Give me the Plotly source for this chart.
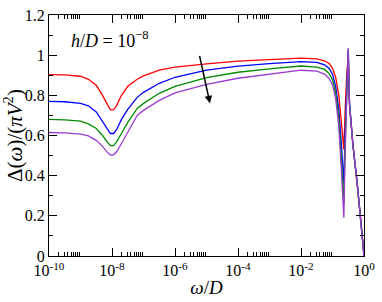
import plotly.graph_objects as go

# log10(omega/D) sample positions
log_omega = [-10, -9.5, -9, -8.75, -8.5, -8.3, -8.15, -8.05, -7.95, -7.85, -7.7, -7.5, -7.2, -7.0,
             -6.5, -6, -5, -4, -3, -2, -1.5, -1.25, -1.1, -1.0, -0.9, -0.8, -0.72, -0.66, -0.64,
             -0.6, -0.55, -0.5, -0.46, -0.35, -0.22, -0.1, 0]

red = [0.903, 0.902, 0.895, 0.88, 0.85, 0.80, 0.755, 0.728, 0.728, 0.75, 0.80, 0.845, 0.88, 0.897,
       0.925, 0.94, 0.957, 0.97, 0.978, 0.985, 0.982, 0.972, 0.957, 0.935, 0.89, 0.80, 0.67, 0.56, 0.53,
       0.72, 0.90, 0.99, 0.75, 0.55, 0.37, 0.18, 0.0]
blue = [0.77, 0.768, 0.76, 0.748, 0.717, 0.672, 0.632, 0.61, 0.61, 0.63, 0.68, 0.73, 0.79, 0.815,
        0.86, 0.89, 0.925, 0.945, 0.958, 0.968, 0.964, 0.952, 0.933, 0.905, 0.845, 0.73, 0.56, 0.39, 0.36,
        0.62, 0.88, 1.02, 0.76, 0.55, 0.37, 0.18, 0.0]
green = [0.68, 0.678, 0.672, 0.658, 0.635, 0.60, 0.567, 0.55, 0.55, 0.57, 0.61, 0.665, 0.735, 0.76,
         0.81, 0.845, 0.888, 0.915, 0.932, 0.946, 0.941, 0.929, 0.907, 0.877, 0.812, 0.685, 0.49, 0.28, 0.26,
         0.55, 0.85, 1.03, 0.76, 0.55, 0.37, 0.18, 0.0]
purple = [0.615, 0.613, 0.607, 0.598, 0.576, 0.546, 0.517, 0.503, 0.504, 0.52, 0.56, 0.615, 0.70, 0.725,
          0.775, 0.812, 0.855, 0.885, 0.905, 0.925, 0.921, 0.906, 0.882, 0.852, 0.785, 0.645, 0.43, 0.20, 0.19,
          0.50, 0.82, 1.035, 0.76, 0.55, 0.37, 0.18, 0.0]

series = [("red", red, "#ff0000"), ("blue", blue, "#0000ff"),
          ("green", green, "#008b00"), ("purple", purple, "#9a3ccf")]

x_tick_exponents = [-10, -8, -6, -4, -2, 0]
y_ticks = [0, 0.2, 0.4, 0.6, 0.8, 1, 1.2]
y_tick_labels = ["0", "0.2", "0.4", "0.6", "0.8", "1", "1.2"]

omega = [10 ** e for e in log_omega]

fig = go.Figure()
for name, vals, col in series:
    fig.add_trace(go.Scatter(x=omega, y=vals, mode="lines", name=name,
                             line=dict(color=col, width=1.3), showlegend=False))

font_family = "Liberation Serif"
x_minor = [k * 10 ** e for e in x_tick_exponents[:-1] for k in range(2, 10)]

fig.update_xaxes(type="log", range=[-10, 0],
                 tickvals=[10 ** e for e in x_tick_exponents],
                 ticktext=[f"10<sup>{e}</sup>" for e in x_tick_exponents],
                 ticks="inside", ticklen=8, tickwidth=1, tickcolor="black",
                 minor=dict(tickvals=x_minor, ticks="inside", ticklen=4, tickcolor="black"),
                 showline=True, linecolor="black", linewidth=1.3, mirror="ticks",
                 showgrid=False, zeroline=False, ticklabeloverflow="allow",
                 tickfont=dict(family=font_family, size=16, color="black"),
                 title=dict(text="<i>ω</i>/<i>D</i>", font=dict(family=font_family, size=19, color="black"),
                            standoff=2))
fig.update_yaxes(range=[0, 1.2], tickvals=y_ticks, ticktext=y_tick_labels,
                 ticks="inside", ticklen=8, tickwidth=1, tickcolor="black",
                 minor=dict(dtick=0.1, tick0=0, ticks="inside", ticklen=4, tickcolor="black"),
                 showline=True, linecolor="black", linewidth=1.3, mirror="ticks",
                 showgrid=False, zeroline=False, ticklabeloverflow="allow",
                 tickfont=dict(family=font_family, size=16, color="black"),
                 title=dict(text="Δ(<i>ω</i>)/(<i>πV</i><sup>2</sup>)",
                            font=dict(family=font_family, size=21, color="black"), standoff=2))

fig.add_annotation(x=-8.05, y=1.08, xref="x", yref="y", showarrow=False,
                   text="<i>h</i>/<i>D</i> = 10<sup>−8</sup>",
                   font=dict(family=font_family, size=18, color="black"))
fig.add_annotation(x=-4.89, y=0.76, ax=-5.23, ay=1.004, xref="x", yref="y", axref="x", ayref="y",
                   showarrow=True, arrowhead=2, arrowsize=1, arrowwidth=1.5, arrowcolor="black", text="")

fig.update_layout(width=382, height=302, margin=dict(l=49, r=10, t=7, b=45),
                  paper_bgcolor="white", plot_bgcolor="white")

fig.write_html("out.html", config={"displayModeBar": False},
               post_script="document.body.style.margin='0';document.body.style.overflow='hidden';")
